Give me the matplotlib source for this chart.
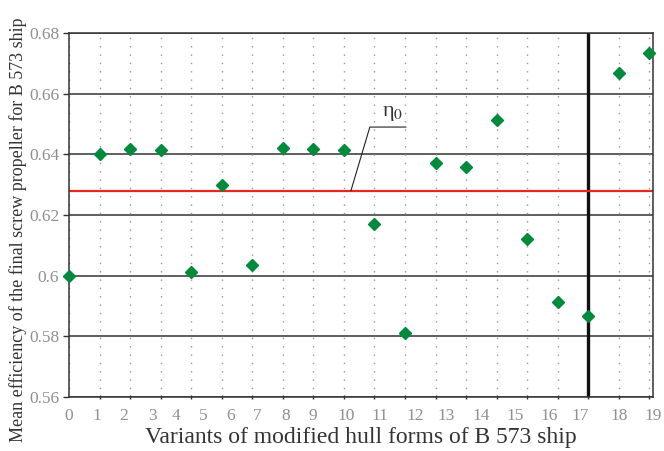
import matplotlib.pyplot as plt
import numpy as np

plt.rcParams['font.family'] = ['Liberation Serif', 'DejaVu Serif']

variants = np.arange(20)
efficiency = [0.600, 0.6402, 0.6418, 0.6413, 0.6011, 0.6299, 0.6035, 0.6421,
              0.6418, 0.6413, 0.6169, 0.5812, 0.6370, 0.6359, 0.6514, 0.6120,
              0.5913, 0.5867, 0.6669, 0.6734]
eta0 = 0.628
variant_labels = [str(i) for i in range(20)]

# where the tick labels sit in the original figure (they drift from the ticks)
label_pos = [0, 0.90, 1.79, 2.73, 3.51, 4.39, 5.30, 6.15, 7.09, 7.97,
             9.08, 10.18, 11.32, 12.36, 13.50, 14.60, 15.71, 16.72, 18.02, 19.12]

fig = plt.figure(figsize=(6.64, 4.51), dpi=100)
ax = fig.add_axes([0.1039, 0.1197, 0.8795, 0.8071])

ax.set_xlim(0, 19)
ax.set_ylim(0.56, 0.68)

# grid
for yv in np.arange(0.56, 0.681, 0.02):
    ax.axhline(yv, color='#333333', linewidth=1.1, zorder=1)
for xv in variants:
    ax.axvline(xv, color='#999999', linewidth=1.0, linestyle=(0, (1, 5)), zorder=1)

ax.axvline(17, color='#111111', linewidth=2.4, zorder=2)
ax.axhline(eta0, color='#e8281e', linewidth=1.6, zorder=2)

ax.plot(variants, efficiency, linestyle='none', marker='D', markersize=5.8,
        color='#008a3c', zorder=4, clip_on=False)

# eta_0 leader
ax.plot([9.23, 9.85, 11.03], [eta0, 0.649, 0.649], color='#222222', linewidth=0.8, zorder=3)
ax.text(10.6, 0.6503, r'η$_\mathrm{0}$', ha='center', va='bottom', fontsize=16,
        color='#333333', math_fontfamily='stix')

for sp in ax.spines.values():
    sp.set_color('#333333')
    sp.set_linewidth(1.1)

ax.set_yticks(np.arange(0.56, 0.681, 0.02))
ax.set_yticklabels(['0.56', '0.58', '0.6', '0.62', '0.64', '0.66', '0.68'])
ax.tick_params(axis='y', length=4, width=1, color='#333333', labelcolor='#909090',
               labelsize=12.5, pad=3)

ax.set_xticks(variants, minor=True)
ax.set_xticks(label_pos, variant_labels)
ax.tick_params(axis='x', which='major', length=0, labelcolor='#909090',
               labelsize=12.5, pad=8)
ax.tick_params(axis='x', which='minor', length=3, width=1, color='#333333',
               direction='inout')

ax.set_xlabel('Variants of modified hull forms of B 573 ship', fontsize=17,
              color='#333333', labelpad=2)
ax.set_ylabel('Mean efficiency of the final screw propeller for B 573 ship',
              fontsize=13.0, color='#333333')
ax.yaxis.set_label_coords(-0.072, 0.46)

fig.savefig('out.png', dpi=100)
